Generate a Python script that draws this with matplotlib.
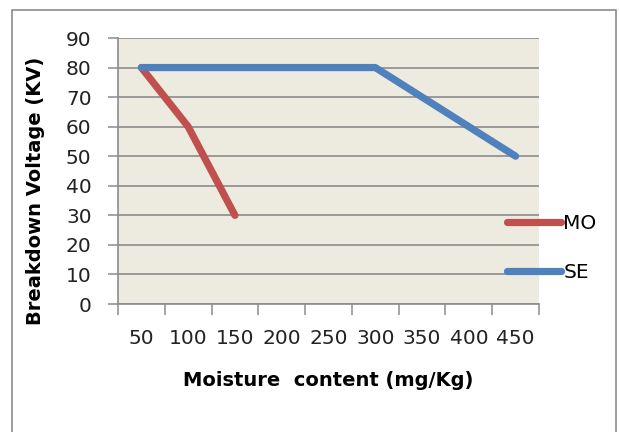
import matplotlib
matplotlib.use("Agg")
import matplotlib.pyplot as plt
from matplotlib.patches import Rectangle
from matplotlib.lines import Line2D

categories = ["50", "100", "150", "200", "250", "300", "350", "400", "450"]
mo_values = [80, 60, 30]
se_values = [80, 80, 80, 80, 80, 80, 70, 60, 50]
y_ticks = [0, 10, 20, 30, 40, 50, 60, 70, 80, 90]

plt.rcParams['font.family'] = ['DejaVu Sans']

W, H = 619, 432
fig = plt.figure(figsize=(W / 100, H / 100), dpi=100)
fig.patch.set_facecolor("white")

# outer chart border
fig.add_artist(Rectangle((12 / W, -0.05), (616 - 12) / W, 1.05 - 10 / H,
                         transform=fig.transFigure, fill=False,
                         edgecolor="#8c8c8c", linewidth=1.2))

ax = fig.add_axes([118 / W, 1 - 304 / H, (539 - 118) / W, (304 - 38) / H])
ax.set_facecolor("#EDEAE0")

red = "#C0504D"
blue = "#4F81BD"
xs = list(range(len(categories)))
ax.plot(xs[:len(mo_values)], mo_values, color=red, lw=5.2,
        solid_capstyle="round", solid_joinstyle="round", zorder=3)
ax.plot(xs, se_values, color=blue, lw=5.2,
        solid_capstyle="round", solid_joinstyle="round", zorder=3)

ax.set_xlim(-0.5, len(categories) - 0.5)
ax.set_ylim(0, 90)
ax.set_yticks(y_ticks)
ax.grid(axis="y", color="#8c8c8c", lw=1.2)
ax.set_axisbelow(True)

ax.set_xticks(xs)
ax.set_xticklabels(categories)
ax.set_xticks([x - 0.5 for x in range(len(categories) + 1)], minor=True)
ax.tick_params(axis="x", which="major", length=0, pad=18, labelsize=14.5, colors="#222222")
ax.tick_params(axis="x", which="minor", length=8, width=1.1, color="#8c8c8c", direction="out")
ax.tick_params(axis="y", length=7, width=1.1, color="#8c8c8c", labelsize=14.5, pad=12,
               labelcolor="#222222")

for s in ["top", "right"]:
    ax.spines[s].set_visible(False)
for s in ["left", "bottom"]:
    ax.spines[s].set_color("#8c8c8c")
    ax.spines[s].set_linewidth(1.2)

ax.set_xlabel("Moisture  content (mg/Kg)", fontsize=14, fontweight="bold")
ax.xaxis.set_label_coords(0.5, (304 - 380) / 266, transform=ax.transAxes)
ax.xaxis.label.set_va("center")
ax.set_ylabel("Breakdown Voltage (KV)", fontsize=14, fontweight="bold")
ax.yaxis.set_label_coords((35 - 118) / 421, (304 - 191) / 266, transform=ax.transAxes)
ax.yaxis.label.set_va("center")

handles = [Line2D([0], [0], color=red, lw=5.2, solid_capstyle="round"),
           Line2D([0], [0], color=blue, lw=5.2, solid_capstyle="round")]
fig.legend(handles, ["MO", "SE"], loc="center left",
           bbox_to_anchor=(507 / W, 1 - 248 / H), frameon=False,
           fontsize=14.5, handlelength=2.7, handletextpad=0.1,
           labelspacing=1.5, borderpad=0, borderaxespad=0)

fig.savefig("out.png", dpi=100, facecolor="white")
